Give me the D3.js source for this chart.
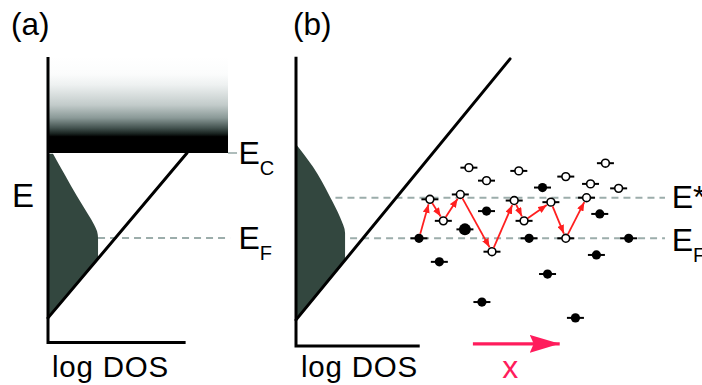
<!DOCTYPE html>
<html><head><meta charset="utf-8">
<script src="https://cdn.jsdelivr.net/npm/d3@7"></script>
<style>
html,body{margin:0;padding:0;background:#fff;}
svg{display:block;font-family:"Liberation Sans",Arial,Helvetica,sans-serif;}
</style>
</head><body>
<svg id="chart" width="702" height="385"></svg>
<script>
// ---------------- DATA ----------------
const panelLabels = ["(a)", "(b)"];
const energyLabel = "E";
const dosLabel = "log DOS";
const driftLabel = "x";

// Panel (a): energies with E_F = 0, E_C = 1 ; log DOS in arbitrary units
const aTailE   = [0.99, 0.74, 0.49, 0.28, 0.16, 0.08, 0.0, -0.14, -0.30, -0.94];
const aTailDOS = [0.036, 0.122, 0.209, 0.288, 0.331, 0.353, 0.36, 0.36, 0.36, 0.36];
const aBandE   = [-0.94, 1.0];
const aBandDOS = [0, 1];
const aLevelNames = ["C", "F"];
const aLevelE     = [1, 0];

// Panel (b): energies with E_F = 0, E* = 1
const bTailE   = [2.30, 1.76, 1.02, 0.52, 0.13, -0.29, -0.60, -2.01];
const bTailDOS = [0.005, 0.122, 0.245, 0.317, 0.353, 0.353, 0.353, 0.353];
const bBandE   = [-2.01, 4.42];
const bBandDOS = [0, 1.54];
const bLevelNames = ["*", "F"];
const bLevelE     = [1, 0];

// localized sites: position along x, energy, occupied?
const siteX = [23.8, 32.2, 47.6, 70.0, 88.9, 81.8, 95.2, 5.2, 19.7, 11.6, 45.4, 50.1, 62.9, 79.9, 34.8, 70.0,
               58.9, 32.2, 86.2, 21.9, 0.0, 52.5, 100.0, 9.7, 84.6, 61.3, 30.0, 74.6];
const siteE = [1.74, 1.42, 1.66, 1.52, 1.85, 1.34, 1.23, 0.96, 1.08, 0.43, 0.93, 0.43, 0.89, 1.00, -0.33, 0.00,
               1.25, 0.67, 0.60, 0.22, 0.00, 0.00, 0.00, -0.58, -0.41, -0.88, -1.57, -1.96];
const siteOccupied = [0,0,0,0,0,0,0,0,0,0,0,0,0,0,0,0, 1,1,1,1,1,1,1,1,1,1,1,1];
const hopPath = [20, 7, 9, 8, 14, 10, 11, 12, 15, 13];
const driftFromTo = [25.7, 67.1];
const driftE = -2.6;

// ---------------- SCALES ----------------
const svg = d3.select("#chart");
svg.append("rect").attr("width",702).attr("height",385).attr("fill","#fff");

const xA = d3.scaleLinear().domain([0,1]).range([48,187]);
const yA = d3.scaleLinear().domain([0,1]).range([238,153]);
const xB = d3.scaleLinear().domain([0,1]).range([296,435]);
const yB = d3.scaleLinear().domain([0,1]).range([238.3,197.7]);
const xS = d3.scaleLinear().domain([0,100]).range([419,628.7]);

const dark = "#33473f";
const dashGray = "#9cadab";
const defs = svg.append("defs");

// gradient for conduction band
const grad = defs.append("linearGradient").attr("id","cb").attr("x1",0).attr("y1",0).attr("x2",0).attr("y2",1);
[[0,"#ffffff"],[0.18,"#fbfcfc"],[0.29,"#eef1f1"],[0.5,"#c2cbca"],[0.635,"#8a9997"],[0.74,"#43524f"],[0.8,"#18221f"],[0.83,"#000"],[1,"#000"]]
  .forEach(([o,c]) => grad.append("stop").attr("offset",o).attr("stop-color",c));

function interp(Es, Ds, e) {
  for (let i=0;i<Es.length-1;i++){
    if (e<=Es[i] && e>=Es[i+1]) {
      const t=(e-Es[i])/(Es[i+1]-Es[i]); return Ds[i]+t*(Ds[i+1]-Ds[i]);
    }
  }
  return Ds[Ds.length-1];
}

function drawTail(opts) {
  const {x, y, tailE, tailDOS, bandE, bandDOS, id} = opts;
  const clip = defs.append("clipPath").attr("id","clip"+id);
  clip.append("path").attr("d", d3.line()([
    [x(0), y(bandE[0])], [x(bandDOS[1]), y(bandE[1])], [x(0), y(bandE[1])]
  ]) + "Z");
  const tail = tailE.map((e,i)=>({e, d: tailDOS[i]}));
  svg.append("path")
    .attr("clip-path","url(#clip"+id+")")
    .attr("fill", dark)
    .attr("d", d3.area().curve(d3.curveMonotoneY)
      .y(d=>y(d.e)).x0(x(0)).x1(d=>x(d.d))(tail));
}

// ---------------- PANEL (a) ----------------
const aAxisTop = 2.13, aHAxisE = -1.23, aHAxisEnd = 0.99, aRectRight = 1.295;
svg.append("rect")
  .attr("x", xA(0)).attr("y", yA(aAxisTop))
  .attr("width", xA(aRectRight)-xA(0)).attr("height", yA(aLevelE[0])-yA(aAxisTop))
  .attr("fill","url(#cb)");
drawTail({x:xA, y:yA, tailE:aTailE, tailDOS:aTailDOS, bandE:aBandE, bandDOS:aBandDOS, id:"a"});
svg.append("line").attr("x1",xA(aRectRight)).attr("x2",xA(1.36))
  .attr("y1",yA(1)).attr("y2",yA(1)).attr("stroke",dashGray).attr("stroke-width",1.6);
svg.append("line").attr("x1",xA(interp(aTailE,aTailDOS,0))).attr("x2",xA(1.31))
  .attr("y1",yA(0)).attr("y2",yA(0)).attr("stroke",dashGray).attr("stroke-width",2)
  .attr("stroke-dasharray","7,5");
svg.append("line").attr("x1",xA(aBandDOS[0])).attr("y1",yA(aBandE[0]))
  .attr("x2",xA(aBandDOS[1])).attr("y2",yA(aBandE[1]))
  .attr("stroke","#000").attr("stroke-width",3).attr("stroke-linecap","round");
svg.append("path").attr("fill","none").attr("stroke","#000").attr("stroke-width",3)
  .attr("d", d3.line()([[xA(0),yA(aAxisTop)],[xA(0),yA(aHAxisE)],[xA(aHAxisEnd),yA(aHAxisE)]]));

// ---------------- PANEL (b) ----------------
const bAxisTop = 4.47, bHAxisE = -2.655, bHAxisEnd = 0.89;
drawTail({x:xB, y:yB, tailE:bTailE, tailDOS:bTailDOS, bandE:bBandE, bandDOS:bBandDOS, id:"b"});
bLevelE.forEach(e=>{
  svg.append("line").attr("x1",xB(interp(bTailE,bTailDOS,e))+5).attr("x2",xS(117.3))
    .attr("y1",yB(e)).attr("y2",yB(e)).attr("stroke",dashGray).attr("stroke-width",2)
    .attr("stroke-dasharray","7,5");
});
svg.append("line").attr("x1",xB(bBandDOS[0])).attr("y1",yB(bBandE[0]))
  .attr("x2",xB(bBandDOS[1])).attr("y2",yB(bBandE[1]))
  .attr("stroke","#000").attr("stroke-width",3).attr("stroke-linecap","round");
svg.append("path").attr("fill","none").attr("stroke","#000").attr("stroke-width",3)
  .attr("d", d3.line()([[xB(0),yB(bAxisTop)],[xB(0),yB(bHAxisE)],[xB(bHAxisEnd),yB(bHAxisE)]]));

// sites
const sites = siteX.map((sx,i)=>({x:xS(sx), y:yB(siteE[i]), occ:siteOccupied[i], big: i===19}));
const gSites = svg.append("g");
sites.forEach(s=>{
  gSites.append("line").attr("x1",s.x-8.5).attr("x2",s.x+8.5).attr("y1",s.y).attr("y2",s.y)
    .attr("stroke","#000").attr("stroke-width",2);
  gSites.append("circle").attr("cx",s.x).attr("cy",s.y)
    .attr("r", s.occ ? (s.big ? 6 : 4.6) : 3.9)
    .attr("fill", s.occ ? "#000" : "#fff")
    .attr("stroke","#000").attr("stroke-width", s.occ ? 0 : 1.6);
});

// hop arrows
const red = "#ff1f1f";
defs.append("marker").attr("id","hop").attr("viewBox","0 0 10 8").attr("refX",10).attr("refY",4)
  .attr("markerWidth",9).attr("markerHeight",7).attr("markerUnits","userSpaceOnUse").attr("orient","auto")
  .append("path").attr("d","M0,0L10,4L0,8Z").attr("fill",red);
for (let k=0;k<hopPath.length-1;k++){
  const a = sites[hopPath[k]], b = sites[hopPath[k+1]];
  const dx=b.x-a.x, dy=b.y-a.y, L=Math.hypot(dx,dy), ux=dx/L, uy=dy/L;
  const ra = a.occ ? 4.6 : 4.5, rb = 5;
  svg.append("line")
    .attr("x1",a.x+ux*ra).attr("y1",a.y+uy*ra).attr("x2",b.x-ux*rb).attr("y2",b.y-uy*rb)
    .attr("stroke",red).attr("stroke-width",1.8).attr("marker-end","url(#hop)");
}

// drift arrow
const pink = "#ff1c5c";
defs.append("marker").attr("id","drift").attr("viewBox","0 0 30 18").attr("refX",30).attr("refY",9)
  .attr("markerWidth",30).attr("markerHeight",18).attr("markerUnits","userSpaceOnUse").attr("orient","auto")
  .append("path").attr("d","M0,0L30,9L0,18L4,9Z").attr("fill",pink);
svg.append("line").attr("x1",xS(driftFromTo[0])).attr("x2",xS(driftFromTo[1]))
  .attr("y1",yB(driftE)).attr("y2",yB(driftE)).attr("stroke",pink).attr("stroke-width",3.2)
  .attr("marker-end","url(#drift)");
svg.append("text").attr("x",(xS(driftFromTo[0])+xS(driftFromTo[1]))/2 - 6).attr("y",378)
  .attr("text-anchor","middle").attr("font-size",32).attr("fill",pink).text(driftLabel);

// ---------------- TEXT ----------------
const txt = (x,y,s,size,anchor) => svg.append("text").attr("x",x).attr("y",y)
  .attr("font-size",size).attr("text-anchor",anchor||"start").attr("fill","#000").text(s);
txt(11,35,panelLabels[0],31.5);
txt(293,35,panelLabels[1],31.5);
txt(12,207,energyLabel,33);
txt(xA(0)+4,377,dosLabel,29.5).attr("letter-spacing",0.8);
txt(xB(0)+5,377,dosLabel,29.5).attr("letter-spacing",0.8);

function levelLabel(x, yBase, sub, subscript) {
  const t = svg.append("text").attr("x",x).attr("y",yBase).attr("font-size",32).attr("fill","#000");
  t.append("tspan").text("E");
  if (subscript) t.append("tspan").attr("font-size",20).attr("dy",11).text(sub);
  else t.append("tspan").attr("font-size",32).text(sub);
}
levelLabel(xA(1.37), yA(aLevelE[0])+11, aLevelNames[0], true);
levelLabel(xA(1.37), yA(aLevelE[1])+11, aLevelNames[1], true);
levelLabel(xS(120.5), yB(bLevelE[0])+10, bLevelNames[0], false);
levelLabel(xS(120.5), yB(bLevelE[1])+13, bLevelNames[1], true);
</script>
</body></html>
